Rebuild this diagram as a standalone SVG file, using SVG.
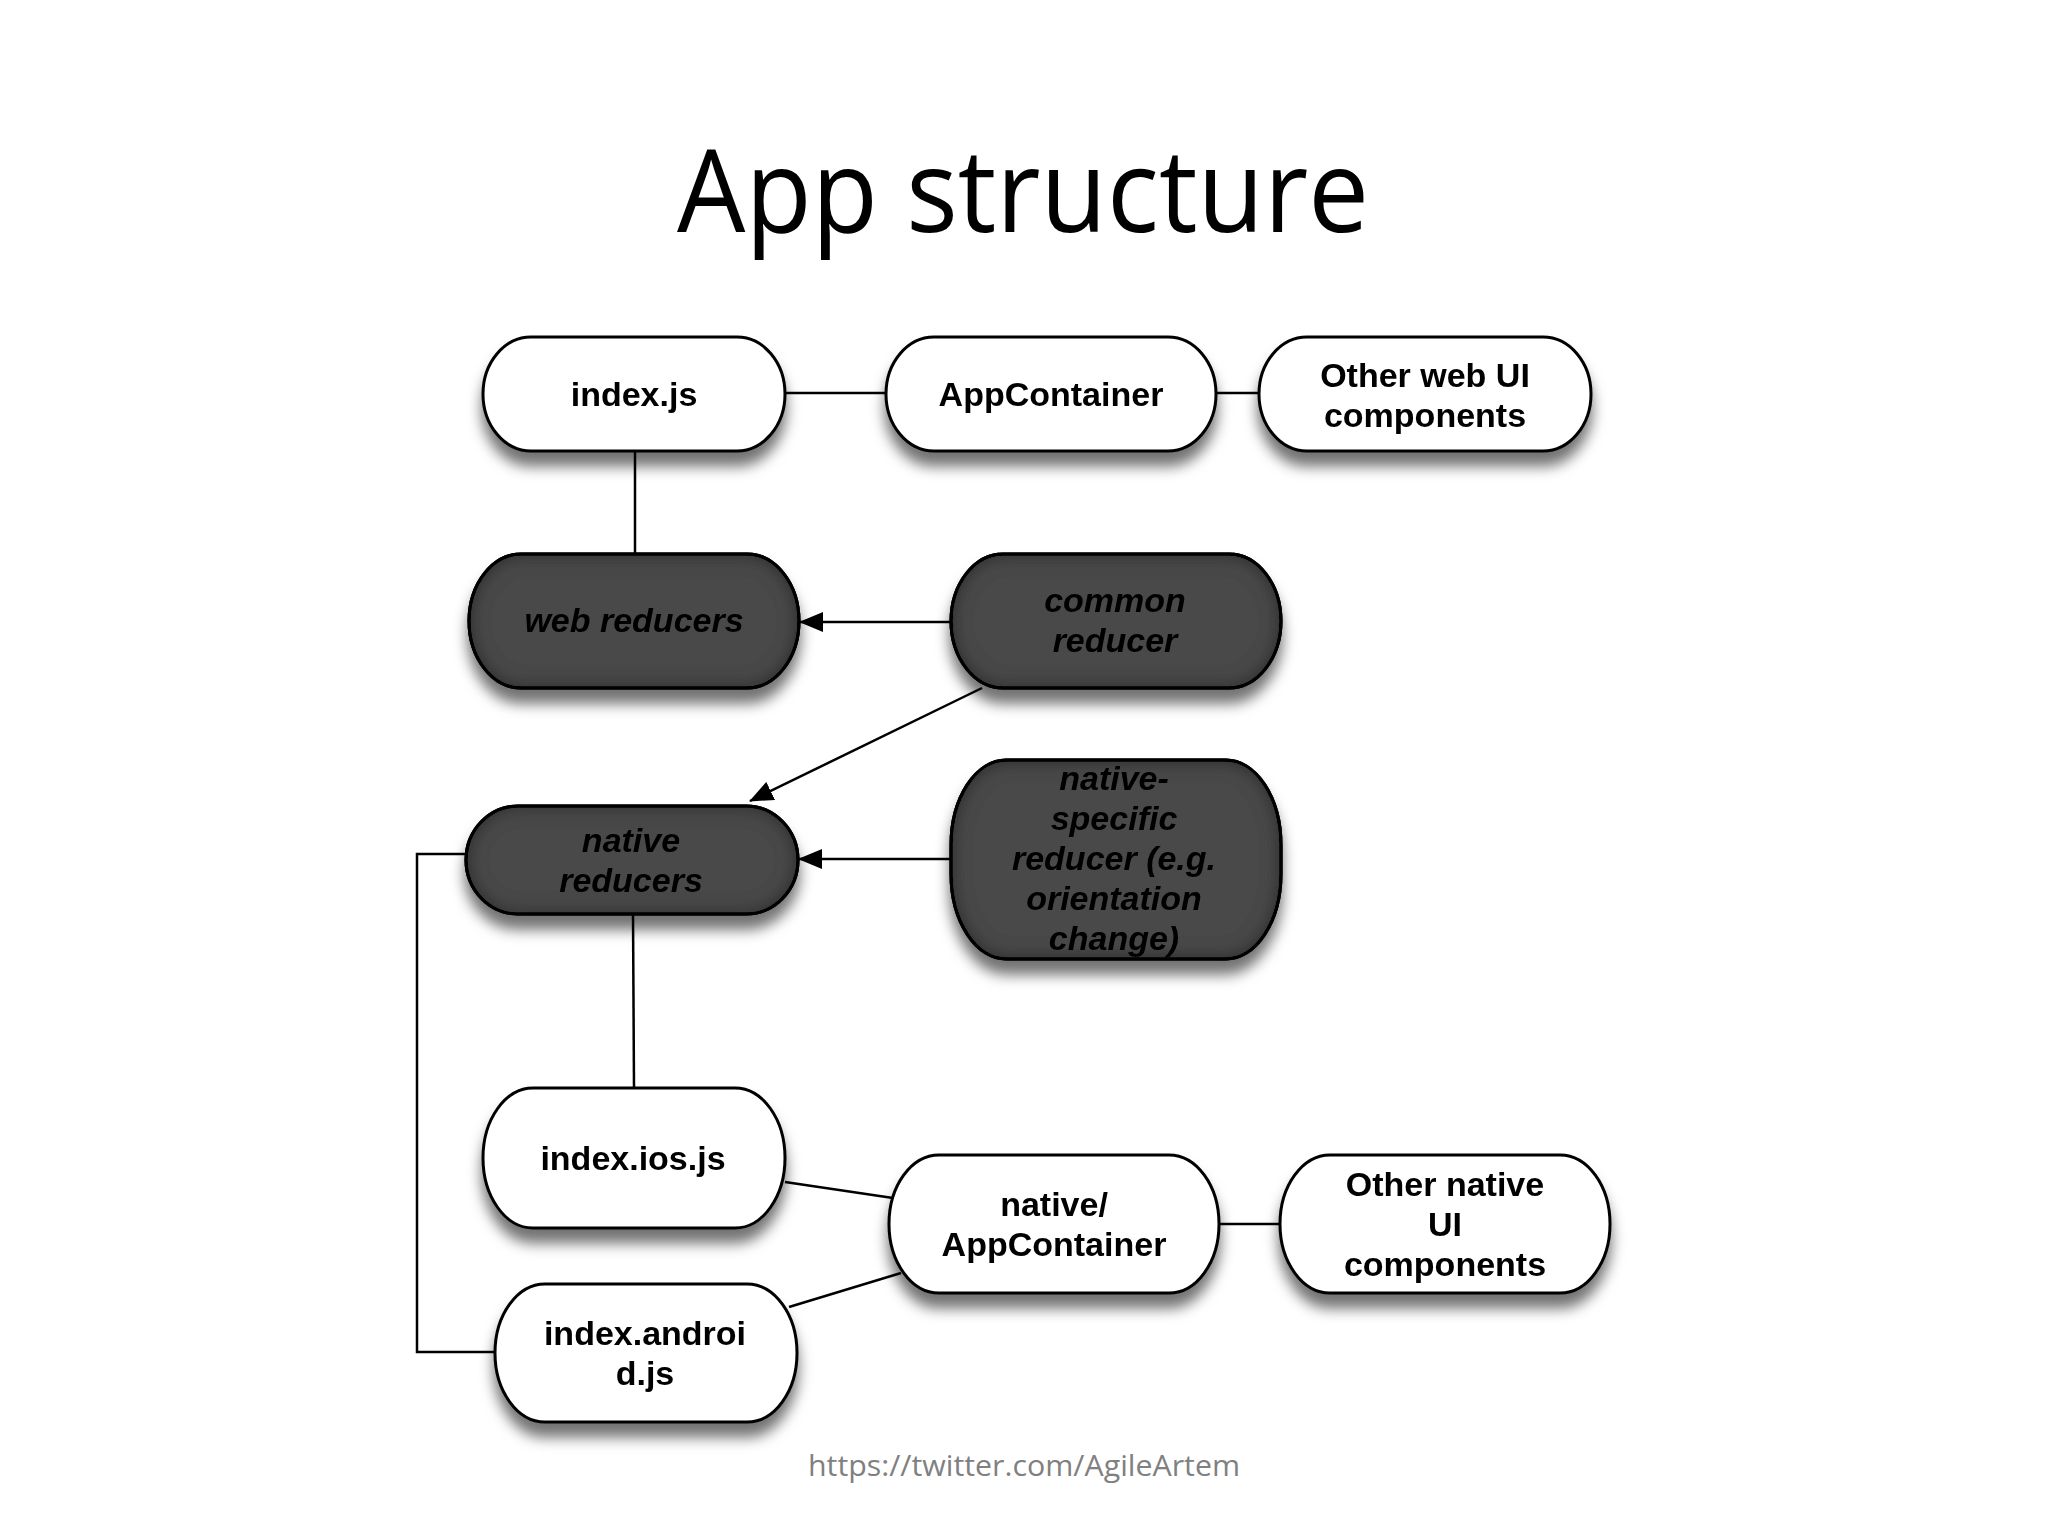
<svg xmlns="http://www.w3.org/2000/svg" width="2048" height="1536" viewBox="0 0 2048 1536">
<style>
.n{fill:#fff;stroke:#000;stroke-width:3}
.d{fill:#4a4a4a;stroke:#000;stroke-width:3}
.t{font-family:"Liberation Sans",Arial,sans-serif;font-weight:bold;font-size:34px;fill:#000;text-anchor:middle}
.i{font-style:italic}
.c{fill:none;stroke:#000;stroke-width:2.5}
</style>
<defs>
<filter id="sh" x="-20%" y="-20%" width="140%" height="160%">
<feGaussianBlur in="SourceAlpha" stdDeviation="7"/>
<feOffset dx="0" dy="14" result="b"/>
<feFlood flood-color="#000" flood-opacity="0.55"/>
<feComposite in2="b" operator="in" result="s"/>
<feMerge><feMergeNode in="s"/><feMergeNode in="SourceGraphic"/></feMerge>
</filter>
<filter id="inner" x="-10%" y="-10%" width="120%" height="120%">
<feFlood flood-color="#0a0a0a"/>
<feComposite in2="SourceAlpha" operator="out"/>
<feGaussianBlur stdDeviation="10"/>
<feComposite in2="SourceAlpha" operator="in" result="in"/>
<feMerge><feMergeNode in="SourceGraphic"/><feMergeNode in="in"/></feMerge>
</filter>
<marker id="arw" viewBox="0 0 24 20" refX="23" refY="10" markerWidth="24" markerHeight="20" orient="auto" markerUnits="userSpaceOnUse">
<path d="M0,0 L24,10 L0,20 Z" fill="#000"/>
</marker>
</defs>
<rect width="2048" height="1536" fill="#fff"/>
<text x="1023" y="232" font-family="'Open Sans','Noto Sans',sans-serif" font-size="115" text-anchor="middle" textLength="692" lengthAdjust="spacingAndGlyphs" fill="#000">App structure</text>

<g id="connectors">
<line class="c" x1="785" y1="393" x2="886" y2="393"/>
<line class="c" x1="1216" y1="393" x2="1259" y2="393"/>
<line class="c" x1="635" y1="451" x2="635" y2="554"/>
<line class="c" x1="951" y1="622" x2="800" y2="622" marker-end="url(#arw)"/>
<line class="c" x1="982" y1="688" x2="750" y2="801" marker-end="url(#arw)"/>
<line class="c" x1="951" y1="859" x2="799" y2="859" marker-end="url(#arw)"/>
<line class="c" x1="633" y1="914" x2="634" y2="1088"/>
<line class="c" x1="785" y1="1182" x2="893" y2="1198"/>
<line class="c" x1="789" y1="1307" x2="901" y2="1273"/>
<line class="c" x1="1219" y1="1224" x2="1280" y2="1224"/>
<polyline class="c" points="466,854 417,854 417,1352 495,1352"/>
</g>

<g id="index-js" filter="url(#sh)">
<rect class="n" x="483" y="337" width="302" height="114" rx="48" ry="57"/>
<text class="t" x="634" y="406">index.js</text>
</g>
<g id="appcontainer" filter="url(#sh)">
<rect class="n" x="886" y="337" width="330" height="114" rx="48" ry="57"/>
<text class="t" x="1051" y="406">AppContainer</text>
</g>
<g id="other-web-ui" filter="url(#sh)">
<rect class="n" x="1259" y="337" width="332" height="114" rx="48" ry="57"/>
<text class="t" x="1425" y="387">Other web UI</text>
<text class="t" x="1425" y="427">components</text>
</g>
<g id="web-reducers" filter="url(#sh)">
<rect class="d" x="469" y="554" width="330" height="134" rx="52" ry="67" filter="url(#inner)"/>
<rect x="469" y="554" width="330" height="134" rx="52" ry="67" fill="none" stroke="#000" stroke-width="3"/>
<text class="t i" x="634" y="632">web reducers</text>
</g>
<g id="common-reducer" filter="url(#sh)">
<rect class="d" x="951" y="554" width="330" height="134" rx="52" ry="67" filter="url(#inner)"/>
<rect x="951" y="554" width="330" height="134" rx="52" ry="67" fill="none" stroke="#000" stroke-width="3"/>
<text class="t i" x="1115" y="612">common</text>
<text class="t i" x="1115" y="652">reducer</text>
</g>
<g id="native-reducers" filter="url(#sh)">
<rect class="d" x="466" y="806" width="332" height="108" rx="52" ry="54" filter="url(#inner)"/>
<rect x="466" y="806" width="332" height="108" rx="52" ry="54" fill="none" stroke="#000" stroke-width="3"/>
<text class="t i" x="631" y="852">native</text>
<text class="t i" x="631" y="892">reducers</text>
</g>
<g id="native-specific-reducer" filter="url(#sh)">
<rect class="d" x="951" y="760" width="330" height="199" rx="55" ry="85" filter="url(#inner)"/>
<rect x="951" y="760" width="330" height="199" rx="55" ry="85" fill="none" stroke="#000" stroke-width="3"/>
<text class="t i" x="1114" y="790">native-</text>
<text class="t i" x="1114" y="830">specific</text>
<text class="t i" x="1114" y="870">reducer (e.g.</text>
<text class="t i" x="1114" y="910">orientation</text>
<text class="t i" x="1114" y="950">change)</text>
</g>
<g id="index-ios-js" filter="url(#sh)">
<rect class="n" x="483" y="1088" width="302" height="140" rx="50" ry="70"/>
<text class="t" x="633" y="1170">index.ios.js</text>
</g>
<g id="index-android-js" filter="url(#sh)">
<rect class="n" x="495" y="1284" width="302" height="138" rx="50" ry="69"/>
<text class="t" x="645" y="1345">index.androi</text>
<text class="t" x="645" y="1385">d.js</text>
</g>
<g id="native-appcontainer" filter="url(#sh)">
<rect class="n" x="889" y="1155" width="330" height="138" rx="50" ry="69"/>
<text class="t" x="1054" y="1216">native/</text>
<text class="t" x="1054" y="1256">AppContainer</text>
</g>
<g id="other-native-ui" filter="url(#sh)">
<rect class="n" x="1280" y="1155" width="330" height="138" rx="50" ry="69"/>
<text class="t" x="1445" y="1196">Other native</text>
<text class="t" x="1445" y="1236">UI</text>
<text class="t" x="1445" y="1276">components</text>
</g>

<text x="1024" y="1476" font-family="'Open Sans','Noto Sans',sans-serif" font-size="29" fill="#808080" text-anchor="middle" textLength="432" lengthAdjust="spacingAndGlyphs">https://twitter.com/AgileArtem</text>
</svg>
